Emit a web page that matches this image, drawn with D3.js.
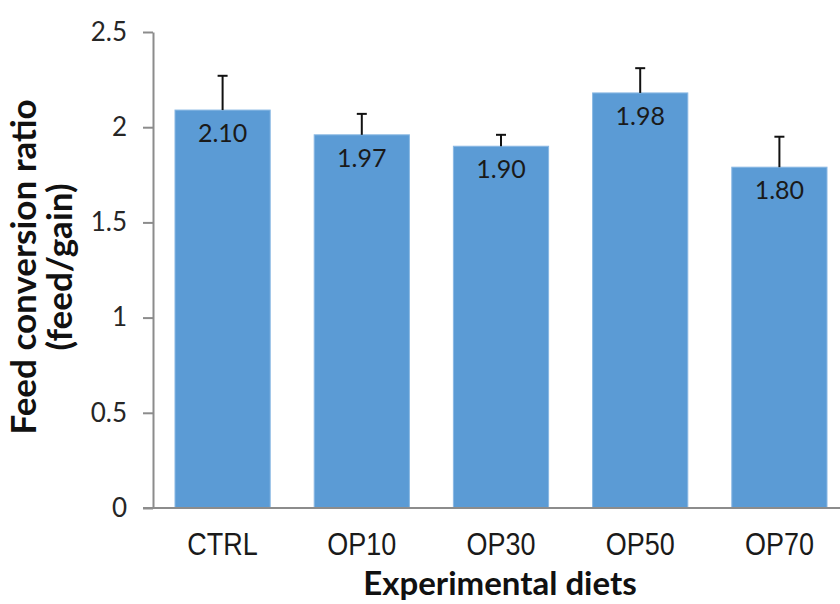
<!DOCTYPE html>
<html>
<head>
<meta charset="utf-8">
<script src="https://cdn.jsdelivr.net/npm/d3@7"></script>
<style>
  html, body { margin: 0; padding: 0; background: #fff; }
  svg { display: block; }
</style>
</head>
<body>
<svg id="chart" width="840" height="604"></svg>
<script>
const categories = ["CTRL", "OP10", "OP30", "OP50", "OP70"];
const values = [2.09, 1.96, 1.90, 2.18, 1.79];
const errors = [0.18, 0.11, 0.06, 0.13, 0.16];
const valueLabels = ["2.10", "1.97", "1.90", "1.98", "1.80"];
const yTicks = [0, 0.5, 1, 1.5, 2, 2.5];
const yTickLabels = ["0", "0.5", "1", "1.5", "2", "2.5"];

const svg = d3.select("#chart");

const x = d3.scaleBand()
  .domain(categories)
  .range([153, 849])
  .paddingInner(0.316)
  .paddingOuter(0.158);

const y = d3.scaleLinear()
  .domain([0, 2.5])
  .range([508, 32]);

const data = categories.map((c, i) => ({ c, v: values[i], e: errors[i], lab: valueLabels[i] }));

// bars
svg.append("g").selectAll("rect")
  .data(data)
  .enter().append("rect")
  .attr("x", d => x(d.c))
  .attr("y", d => y(d.v))
  .attr("width", x.bandwidth())
  .attr("height", d => y(0) - y(d.v))
  .attr("fill", "#5b9bd5")
  .attr("stroke", "#8ab8e3")
  .attr("stroke-width", 1);

// error bars (upper only)
const eb = svg.append("g").attr("stroke", "#111").attr("stroke-width", 2);
data.forEach(d => {
  const cx = x(d.c) + x.bandwidth() / 2;
  eb.append("line")
    .attr("x1", cx).attr("x2", cx)
    .attr("y1", y(d.v)).attr("y2", y(d.v + d.e));
  eb.append("line")
    .attr("x1", cx - 5).attr("x2", cx + 5)
    .attr("y1", y(d.v + d.e)).attr("y2", y(d.v + d.e));
});

// value labels
svg.append("g").selectAll("text")
  .data(data)
  .enter().append("text")
  .attr("x", d => x(d.c) + x.bandwidth() / 2)
  .attr("y", d => y(d.v) + 32)
  .attr("text-anchor", "middle")
  .attr("font-family", "Lato, 'Open Sans', sans-serif")
  .attr("font-size", 25)
  .attr("fill", "#1a1a1a")
  .text(d => d.lab);

// y axis
const yAxis = d3.axisLeft(y)
  .tickValues(yTicks)
  .tickFormat((d, i) => yTickLabels[i])
  .tickSize(10)
  .tickSizeOuter(0)
  .tickPadding(16);
const gy = svg.append("g").attr("transform", "translate(153,0)").call(yAxis);
gy.select(".domain").attr("stroke", "#8c8c8c").attr("stroke-width", 2);
gy.selectAll(".tick line").attr("stroke", "#8c8c8c").attr("stroke-width", 2);
gy.selectAll(".tick text")
  .attr("font-family", "Lato, 'Open Sans', sans-serif")
  .attr("font-size", 26)
  .attr("fill", "#262626");

// x axis
const xAxis = d3.axisBottom(x).tickSize(0).tickSizeOuter(0).tickPadding(22);
const gx = svg.append("g").attr("transform", "translate(0,508)").call(xAxis);
gx.select(".domain").remove();
gx.append("line")
  .attr("x1", 143).attr("x2", 840)
  .attr("y1", 0).attr("y2", 0)
  .attr("stroke", "#8c8c8c").attr("stroke-width", 2);
gx.selectAll(".tick text")
  .attr("font-family", "'Liberation Sans', Arial, sans-serif")
  .attr("font-size", 27)
  .attr("transform", "scale(1,1.15)")
  .attr("fill", "#1a1a1a");

// axis titles
svg.append("text")
  .attr("x", 500)
  .attr("y", 595)
  .attr("text-anchor", "middle")
  .attr("font-family", "Lato, 'Open Sans', sans-serif")
  .attr("font-weight", "bold")
  .attr("font-size", 33)
  .attr("fill", "#111")
  .text("Experimental diets");

const yt = svg.append("text")
  .attr("transform", "translate(36,267) rotate(-90)")
  .attr("text-anchor", "middle")
  .attr("font-family", "Lato, 'Open Sans', sans-serif")
  .attr("font-weight", "bold")
  .attr("font-size", 35)
  .attr("fill", "#111");
yt.append("tspan").attr("x", 0).attr("y", 0).text("Feed conversion ratio");
yt.append("tspan").attr("x", 0).attr("y", 36).text("(feed/gain)");
</script>
</body>
</html>
